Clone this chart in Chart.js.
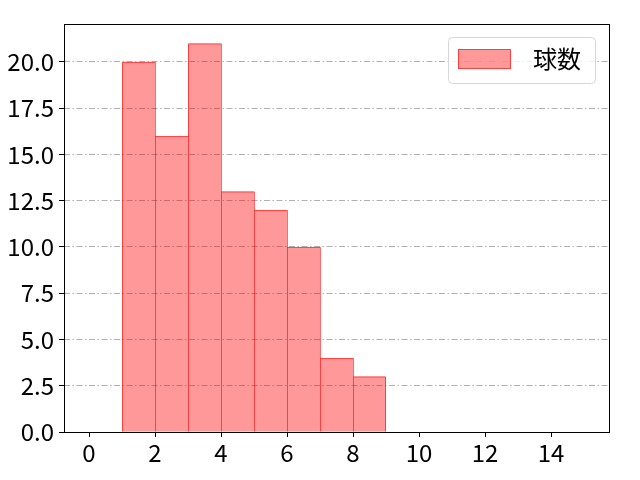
<!DOCTYPE html>
<html>
<head>
<meta charset="utf-8">
<script src="https://cdn.jsdelivr.net/npm/chart.js@4.4.0/dist/chart.umd.min.js"></script>
<style>
  html, body { margin: 0; padding: 0; background: #fff; }
  #wrap { width: 640px; height: 480px; }
</style>
</head>
<body>
<div id="wrap"><canvas id="chart" width="640" height="480"></canvas></div>
<script>
// histogram bins (left edges), width 1
const binStarts = [1, 2, 3, 4, 5, 6, 7, 8];
const counts = [20, 16, 21, 13, 12, 10, 4, 3];
const seriesLabel = "球数";
const xTicks = [0, 2, 4, 6, 8, 10, 12, 14];
const yTicks = [0, 2.5, 5, 7.5, 10, 12.5, 15, 17.5, 20];

const fontFamily = "'Noto Sans CJK JP', 'Noto Sans', sans-serif";
const fillColor = "rgba(255, 0, 0, 0.4)";
const edgeColor = "rgba(255, 0, 0, 0.58)";

// outline bars with one shared 1px edge between neighbours (matplotlib histogram look)
const edgePlugin = {
  id: "edges",
  afterDatasetsDraw(chart) {
    const ctx = chart.ctx;
    const bars = chart.getDatasetMeta(0).data;
    ctx.save();
    ctx.strokeStyle = edgeColor;
    ctx.lineWidth = 1;
    bars.forEach((bar, i) => {
      const l = bar.x - bar.width / 2 + 0.5;
      const r = bar.x + bar.width / 2 - 0.5;
      const t = bar.y + 0.5;
      const b = bar.base;
      const prevTop = i > 0 ? Math.min(bars[i - 1].y + 0.5, t) : t;
      ctx.beginPath();
      ctx.moveTo(l, b);
      ctx.lineTo(l, prevTop);
      ctx.moveTo(l, t);
      ctx.lineTo(i === bars.length - 1 ? r : r + 1, t);
      if (i === bars.length - 1) ctx.lineTo(r, b);
      ctx.stroke();
    });
    ctx.restore();
  }
};

// frame around plot + legend box
const framePlugin = {
  id: "frame",
  afterDraw(chart) {
    const ctx = chart.ctx;
    const a = chart.chartArea;
    ctx.save();
    ctx.strokeStyle = "#000";
    ctx.lineWidth = 1;
    ctx.strokeRect(Math.round(a.left) + 0.5, Math.round(a.top) + 0.5,
      Math.round(a.right - a.left), Math.round(a.bottom - a.top));

    // legend
    const bx = a.right - 161, by = a.top + 13, bw = 147, bh = 46, r = 4;
    ctx.beginPath();
    ctx.roundRect(bx + 0.5, by + 0.5, bw, bh, r);
    ctx.fillStyle = "rgba(255,255,255,0.8)";
    ctx.fill();
    ctx.strokeStyle = "#d6d6d6";
    ctx.stroke();

    ctx.fillStyle = fillColor;
    ctx.fillRect(bx + 10, by + 12, 53, 20);
    ctx.strokeStyle = edgeColor;
    ctx.strokeRect(bx + 10.5, by + 12.5, 52, 19);

    ctx.fillStyle = "#000";
    ctx.font = "24px " + fontFamily;
    ctx.textBaseline = "middle";
    ctx.fillText(chart.data.datasets[0].label, bx + 85, by + 22);
    ctx.restore();
  }
};

const ctx = document.getElementById("chart").getContext("2d");
new Chart(ctx, {
  type: "bar",
  data: {
    datasets: [{
      label: seriesLabel,
      data: binStarts.map((s, i) => ({ x: s + 0.5, y: counts[i] })),
      backgroundColor: fillColor,
      borderWidth: 0,
      inflateAmount: 0,
      barPercentage: 1,
      categoryPercentage: 1
    }]
  },
  options: {
    responsive: false,
    animation: false,
    devicePixelRatio: 1,
    layout: { padding: { top: 24, right: 31, left: 0, bottom: 0 } },
    plugins: {
      legend: { display: false },
      tooltip: { enabled: false }
    },
    scales: {
      x: {
        type: "linear",
        min: -25 / 33,
        max: -25 / 33 + 545 / 33,
        offset: false,
        afterFit(scale) { scale.height = 48; },
        afterBuildTicks(scale) { scale.ticks = xTicks.map(v => ({ value: v })); },
        grid: {
          offset: false,
          drawOnChartArea: false,
          drawTicks: true,
          tickLength: 5,
          tickColor: "#000"
        },
        border: { display: false },
        ticks: {
          color: "#000",
          padding: 1,
          maxRotation: 0,
          font: { family: fontFamily, size: 24 },
          callback: v => String(v)
        }
      },
      y: {
        min: 0,
        max: 22.05,
        afterFit(scale) { scale.width = 64; },
        afterBuildTicks(scale) { scale.ticks = yTicks.map(v => ({ value: v })); },
        grid: {
          color: "#b0b0b0",
          lineWidth: 1,
          tickLength: 5,
          tickColor: "#000",
          tickBorderDash: []
        },
        border: { display: false, dash: [6, 2.5, 1.5, 2.5] },
        ticks: {
          color: "#000",
          padding: 5,
          font: { family: fontFamily, size: 24 },
          callback: v => v.toFixed(1)
        }
      }
    }
  },
  plugins: [edgePlugin, framePlugin]
});
</script>
</body>
</html>
